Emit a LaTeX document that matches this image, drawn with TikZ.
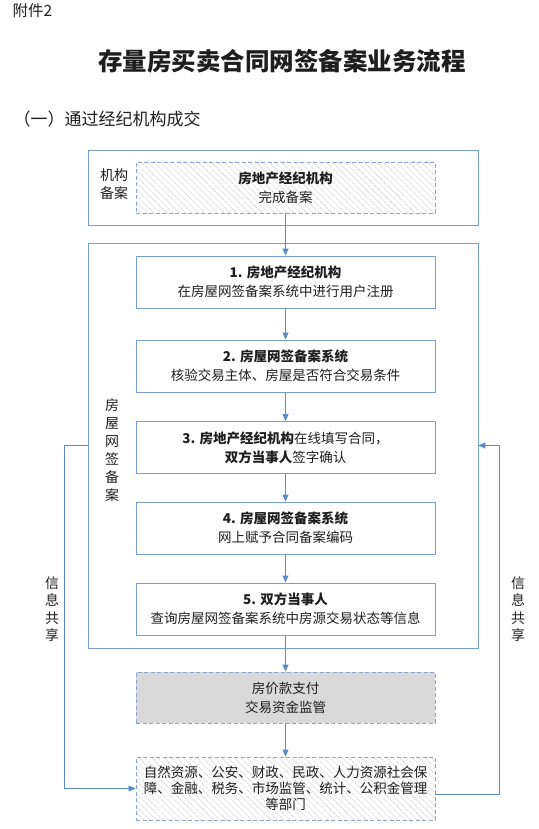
\documentclass[tikz,border=0pt]{standalone}
\usepackage{fontspec}
\setmainfont{Noto Sans CJK SC}
\usetikzlibrary{arrows.meta,patterns.meta,positioning}
\definecolor{lineblue}{RGB}{88,140,200}
\definecolor{boxblue}{RGB}{118,160,210}
\definecolor{dashblue}{RGB}{140,165,200}
\definecolor{hatchgray}{RGB}{205,205,205}
\definecolor{paygray}{RGB}{217,217,217}
\definecolor{inktext}{RGB}{30,30,30}
\tikzset{
  frame/.style={draw=boxblue, line width=0.9pt, minimum width=390pt},
  stepbox/.style={draw=boxblue, line width=0.9pt, minimum width=299pt, minimum height=52pt,
    align=center, text=inktext, font=\fontsize{13.5}{19}\selectfont},
  dashbox/.style={stepbox, draw=dashblue, dash pattern=on 4pt off 2.5pt},
  hatchbox/.style={dashbox, pattern={Lines[angle=-45,distance=4.5pt,line width=0.4pt]}, pattern color=hatchgray},
  flow/.style={draw=lineblue, line width=0.9pt, -{Triangle[length=7pt,width=6pt]}},
  vlabel/.style={align=center, text=inktext, font=\fontsize{14}{18}\selectfont}
}

\begin{document}
\begin{tikzpicture}[x=1pt,y=-1pt]
  \useasboundingbox (0,0) rectangle (538,829);
  \node[anchor=west, text=inktext, font=\fontsize{15.5}{17}\selectfont] (annex) at (9,11) {附件2};
  \node[text=inktext, font=\fontsize{24.5}{28}\bfseries] (title) at (282,61) {存量房买卖合同网签备案业务流程};
  \node[anchor=west, text=inktext, font=\fontsize{17}{20}\selectfont] (section) at (10,119) {（一）通过经纪机构成交};

  % outer frames
  \node[frame, minimum height=75pt] (orgframe) at (283,187.5) {};
  \node[frame, minimum height=405pt] (netframe) at (283,445.5) {};
  \node[vlabel] (orglabel) at (114,184) {机构\\备案};
  \node[vlabel] (netlabel) at (112,450) {房\\屋\\网\\签\\备\\案};

  \node[hatchbox, minimum height=51pt] (orgbox) at (285.5,187.5) {\textbf{房地产经纪机构}\\完成备案};
  \node[stepbox] (stepA) at (285.5,282) {\textbf{1. 房地产经纪机构}\\在房屋网签备案系统中进行用户注册};
  \node[stepbox] (stepB) at (285.5,366) {\textbf{2. 房屋网签备案系统}\\核验交易主体、房屋是否符合交易条件};
  \node[stepbox] (stepC) at (285.5,447.5) {\textbf{3. 房地产经纪机构}在线填写合同，\\\textbf{双方当事人}签字确认};
  \node[stepbox] (stepD) at (285.5,528) {\textbf{4. 房屋网签备案系统}\\网上赋予合同备案编码};
  \node[stepbox] (stepE) at (285.5,609) {\textbf{5. 双方当事人}\\查询房屋网签备案系统中房源交易状态等信息};
  \node[dashbox, fill=paygray, minimum height=51pt] (paybox) at (285.5,697.5) {房价款支付\\交易资金监管};
  \node[hatchbox, minimum height=63pt, font=\fontsize{13.5}{16}\selectfont] (deptbox) at (285.5,788.5)
    {自然资源、公安、财政、民政、人力资源社会保\\障、金融、税务、市场监管、统计、公积金管理\\等部门};

  \node[vlabel, font=\fontsize{14}{17.5}\selectfont] (shareL) at (52,609) {信\\息\\共\\享};
  \node[vlabel, font=\fontsize{14}{17.5}\selectfont] (shareR) at (518,609) {信\\息\\共\\享};

  \draw[flow] (orgbox) -- (stepA);
  \draw[flow] (stepA) -- (stepB);
  \draw[flow] (stepB) -- (stepC);
  \draw[flow] (stepC) -- (stepD);
  \draw[flow] (stepD) -- (stepE);
  \draw[flow] (stepE) -- (paybox);
  \draw[flow] (paybox) -- (deptbox);
  \draw[flow] (netframe.west) -- ++(-23,0) |- (deptbox.west);
  \draw[flow] ([yshift=-6pt]deptbox.east) -- ++(64,0) |- (netframe.east);
\end{tikzpicture}
\end{document}
